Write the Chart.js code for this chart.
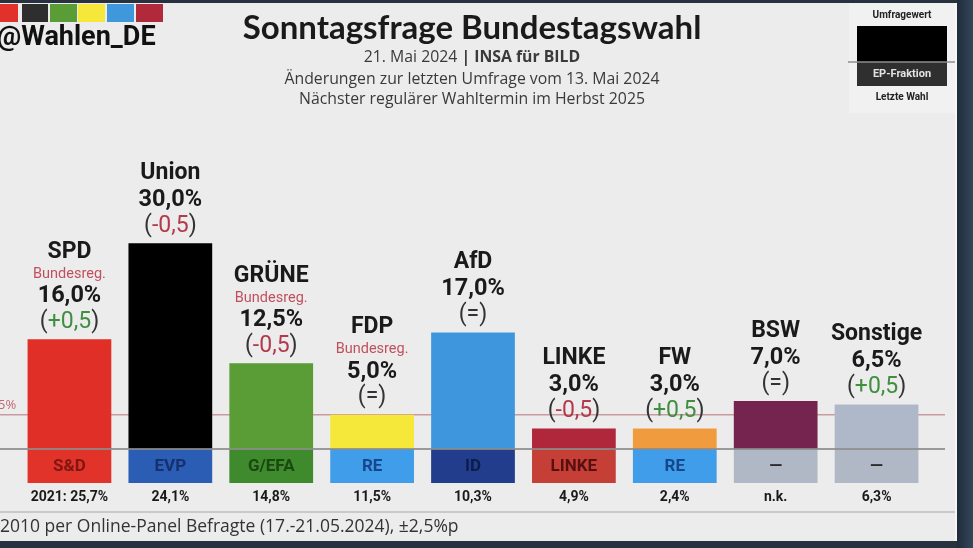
<!DOCTYPE html>
<html lang="de">
<head>
<meta charset="UTF-8">
<title>Sonntagsfrage Bundestagswahl</title>
<style>
  html, body { margin: 0; padding: 0; background: #ececec; overflow: hidden; }
  canvas { display: block; }
</style>
</head>
<body>
<canvas id="chart" width="973" height="548"></canvas>
<script src="https://cdn.jsdelivr.net/npm/chart.js"></script>
<script>
"use strict";

// data
const parties = ["SPD", "Union", "GRÜNE", "FDP", "AfD", "LINKE", "FW", "BSW", "Sonstige"];
const values = [16.0, 30.0, 12.5, 5.0, 17.0, 3.0, 3.0, 7.0, 6.5];
const changes = [0.5, -0.5, -0.5, 0, 0, -0.5, 0.5, 0, 0.5];
const government = [true, false, true, true, false, false, false, false, false];
const epGroups = ["S&D", "EVP", "G/EFA", "RE", "ID", "LINKE", "RE", "—", "—"];
const lastElection = [25.7, 24.1, 14.8, 11.5, 10.3, 4.9, 2.4, null, 6.3];
const threshold = 5;

// styles
const barColors = ["#df2f27", "#000000", "#5a9c35", "#f6e73b", "#3e97dd", "#b0273b", "#f09b3d", "#74244f", "#aeb8c9"];
const epColors = ["#e2332a", "#2c5db4", "#3e8a2c", "#3f9de9", "#213d8c", "#c63f37", "#3f9de9", "#b0b8c5", "#b0b8c5"];
const epText = ["#7e1612", "#15306e", "#1a4712", "#17478a", "#0c1c4c", "#561010", "#17478a", "#2a2a2a", "#2a2a2a"];
const headerColors = ["#e0312a", "#2e2e2e", "#5a9c35", "#f6e73b", "#3f97dc", "#b02a3c"];

const fmt = v => v.toFixed(1).replace(".", ",");

const decor = {
  id: "decor",
  beforeDraw(chart) {
    const c = chart.ctx;
    c.save();
    c.fillStyle = "#ececec";
    c.fillRect(0, 0, 973, 548);
    // dark frame of the screenshot
    c.fillStyle = "#28323f";
    c.fillRect(0, 0, 973, 3);
    c.fillRect(0, 541, 973, 7);
    const g = c.createLinearGradient(956, 0, 973, 0);
    g.addColorStop(0, "#1e2a38");
    g.addColorStop(1, "#33475a");
    c.fillStyle = g;
    c.fillRect(957, 0, 16, 548);
    c.fillStyle = "#f6f6f6";
    c.fillRect(955, 3, 2, 538);

    // header colour squares
    const sq = [[0, 18], [22, 26], [50, 27], [78, 27], [107, 27], [136, 27]];
    sq.forEach((s, i) => {
      c.fillStyle = headerColors[i];
      c.fillRect(s[0], 4, s[1], 18);
    });
    c.fillStyle = "#111";
    c.font = "bold 27px Roboto";
    c.textBaseline = "middle";
    c.textAlign = "left";
    c.fillText("@Wahlen_DE", -3, 38);

    // title
    c.textAlign = "center";
    c.fillStyle = "#1a1a1a";
    c.font = "bold 33px Lato";
    c.fillText("Sonntagsfrage Bundestagswahl", 472, 28);
    c.fillStyle = "#3a3a3a";
    const a = "21. Mai 2024 ", b = "| INSA für BILD";
    c.font = "15.8px 'Open Sans'";
    const wa = c.measureText(a).width;
    c.font = "bold 15.8px 'Open Sans'";
    const wb = c.measureText(b).width;
    const x0 = 472 - (wa + wb) / 2;
    c.textAlign = "left";
    c.font = "15.8px 'Open Sans'";
    c.fillText(a, x0, 57);
    c.font = "bold 15.8px 'Open Sans'";
    c.fillText(b, x0 + wa, 57);
    c.textAlign = "center";
    c.font = "15.8px 'Open Sans'";
    c.fillText("Änderungen zur letzten Umfrage vom 13. Mai 2024", 472, 79);
    c.fillText("Nächster regulärer Wahltermin im Herbst 2025", 472, 99);

    // legend box top right
    c.fillStyle = "#f1f1f1";
    c.fillRect(849, 3, 106, 110);
    c.fillStyle = "#222";
    c.font = "bold 10px Roboto";
    c.fillText("Umfragewert", 902, 15);
    c.fillStyle = "#000";
    c.fillRect(857, 26, 90, 36);
    c.fillStyle = "#2f2f2f";
    c.fillRect(857, 62, 90, 24);
    c.strokeStyle = "#8e8e8e";
    c.lineWidth = 1.5;
    c.beginPath();
    c.moveTo(848, 62);
    c.lineTo(955, 62);
    c.stroke();
    c.fillStyle = "#e2e2e2";
    c.font = "bold 11px Roboto";
    c.fillText("EP-Fraktion", 902, 74);
    c.fillStyle = "#222";
    c.font = "bold 10px Roboto";
    c.fillText("Letzte Wahl", 902, 97);
    c.restore();
  },
  beforeDatasetsDraw(chart) {
    const c = chart.ctx, y = chart.scales.y;
    const y5 = y.getPixelForValue(threshold);
    c.save();
    c.strokeStyle = "#c99ba1";
    c.lineWidth = 1.5;
    c.beginPath();
    c.moveTo(0, y5);
    c.lineTo(945, y5);
    c.stroke();
    c.fillStyle = "#c06a76";
    c.font = "13px 'Open Sans'";
    c.textAlign = "left";
    c.textBaseline = "bottom";
    c.fillText(threshold + "%", -2, y5 - 3);
    c.restore();
  },
  afterDatasetsDraw(chart) {
    const c = chart.ctx, y = chart.scales.y;
    const base = y.getPixelForValue(0);
    const bars = chart.getDatasetMeta(0).data;
    c.save();
    c.textAlign = "center";
    c.textBaseline = "middle";
    bars.forEach((bar, i) => {
      const x = bar.x, top = bar.y, w = bar.width;
      // EP group box
      c.fillStyle = epColors[i];
      c.fillRect(x - w / 2, base, w, 34);
      c.fillStyle = epText[i];
      c.font = "bold 17px Roboto";
      c.fillText(epGroups[i], x, base + 18);
      // last election
      c.fillStyle = "#1a1a1a";
      c.font = "bold 14px Roboto";
      let le = lastElection[i] === null ? "n.k." : fmt(lastElection[i]) + "%";
      if (i === 0) le = "2021: " + le;
      c.fillText(le, x, base + 48);

      // labels above bar
      const d = changes[i];
      c.font = "23px Roboto";
      if (d === 0) {
        c.fillStyle = "#333";
        c.fillText("(=)", x, top - 17);
      } else {
        const inner = (d > 0 ? "+" : "-") + fmt(Math.abs(d));
        const wi = c.measureText(inner).width, wp = c.measureText("(").width;
        const wt = wi + 2 * wp;
        let lx = x - wt / 2;
        c.textAlign = "left";
        c.fillStyle = "#333";
        c.fillText("(", lx, top - 17);
        c.fillStyle = d > 0 ? "#3f8f3f" : "#b23a4b";
        c.fillText(inner, lx + wp, top - 17);
        c.fillStyle = "#333";
        c.fillText(")", lx + wp + wi, top - 17);
        c.textAlign = "center";
      }
      c.fillStyle = "#1a1a1a";
      c.font = "bold 23.5px Roboto";
      c.fillText(fmt(values[i]) + "%", x, top - 43);
      let ny = top - 70;
      if (government[i]) {
        c.fillStyle = "#c0505e";
        c.font = "14.5px Roboto";
        c.fillText("Bundesreg.", x, top - 65);
        ny = top - 87;
      }
      c.fillStyle = "#1a1a1a";
      c.font = "bold 23px Roboto";
      c.fillText(parties[i], x, ny);
    });

    // baseline between bars and EP boxes
    c.strokeStyle = "rgba(140,140,140,0.85)";
    c.lineWidth = 2;
    c.beginPath();
    c.moveTo(0, base);
    c.lineTo(945, base);
    c.stroke();
    // bottom separator
    c.strokeStyle = "#c9c9c9";
    c.beginPath();
    c.moveTo(0, 512);
    c.lineTo(955, 512);
    c.stroke();
    c.fillStyle = "#333";
    c.font = "17.5px 'Open Sans'";
    c.textAlign = "left";
    c.fillText("2010 per Online-Panel Befragte (17.-21.05.2024), ±2,5%p", 0, 527);
    c.restore();
  }
};

new Chart(document.getElementById("chart"), {
  type: "bar",
  data: {
    labels: parties,
    datasets: [{
      data: values,
      backgroundColor: barColors,
      borderWidth: 0,
      barPercentage: 1,
      categoryPercentage: 0.83
    }]
  },
  options: {
    responsive: false,
    animation: false,
    devicePixelRatio: 1,
    layout: { padding: { top: 106, bottom: 99, left: 19, right: 46 } },
    plugins: { legend: { display: false }, tooltip: { enabled: false } },
    scales: {
      x: { display: false },
      y: { display: false, min: 0, max: 50 }
    }
  },
  plugins: [decor]
});
</script>
</body>
</html>
